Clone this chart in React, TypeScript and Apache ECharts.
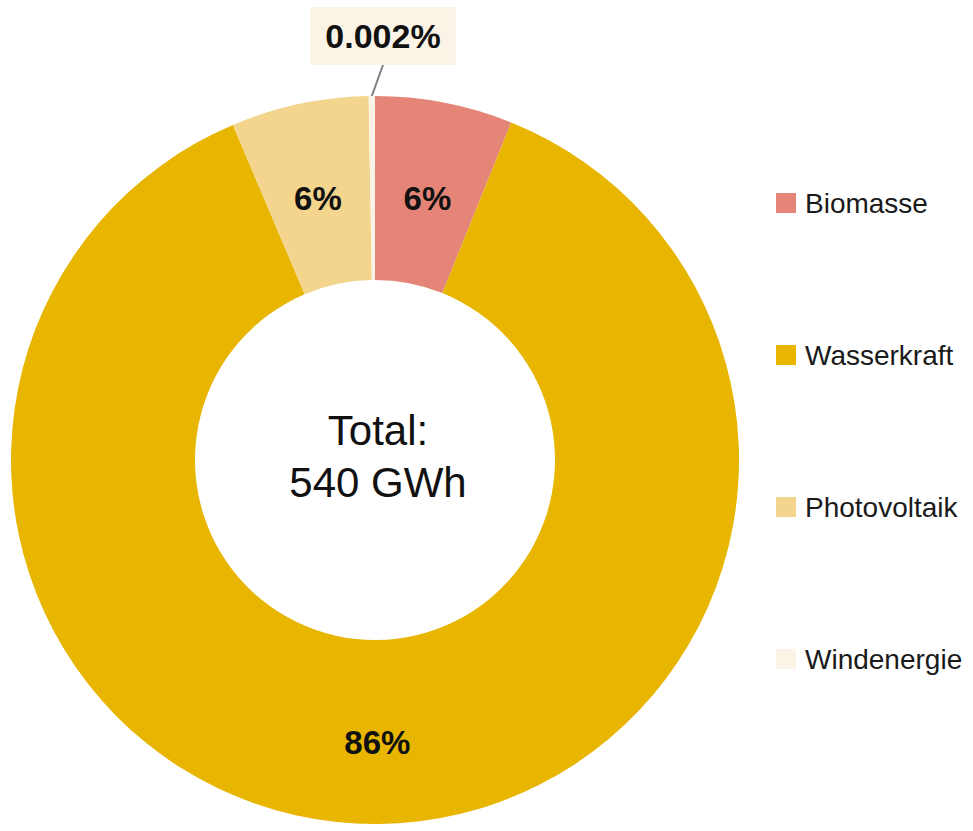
import React, { useEffect, useRef } from "react";
import * as echarts from "echarts";

const categories = ["Biomasse", "Wasserkraft", "Photovoltaik", "Windenergie"];
const shares = [6, 86, 6, 0.002];
const colors = ["#E48578", "#E8B500", "#F3D58E", "#FBF4E6"];
const totalText = "Total:\n540 GWh";

export default function App() {
  const ref = useRef<HTMLDivElement>(null);
  useEffect(() => {
    document.body.style.margin = "0";
    const chart = echarts.init(ref.current!, null, { renderer: "svg" });
    const font = "'Liberation Sans', Arial, sans-serif";
    chart.setOption({
      animation: false,
      backgroundColor: "#ffffff",
      legend: {
        orient: "vertical",
        left: 776,
        top: 188,
        padding: 0,
        itemWidth: 20,
        itemHeight: 20,
        itemGap: 122,
        icon: "rect",
        data: categories,
        textStyle: {
          fontFamily: font,
          fontSize: 28,
          lineHeight: 30,
          color: "#1a1a1a",
          padding: [0, 0, 0, 4],
        },
      },
      graphic: [
        {
          type: "text",
          x: 378,
          y: 456,
          style: {
            text: totalText,
            align: "center",
            verticalAlign: "middle",
            fontFamily: font,
            fontSize: 42,
            lineHeight: 52,
            fill: "#111",
          },
        },
      ],
      series: [
        {
          type: "pie",
          center: [375, 460],
          radius: [180, 364],
          startAngle: 90,
          clockwise: true,
          minAngle: 1,
          avoidLabelOverlap: false,
          itemStyle: { borderWidth: 0 },
          label: {
            show: true,
            position: "inside",
            formatter: (p: any) => p.value + "%",
            fontFamily: font,
            fontSize: 33,
            fontWeight: "bold",
            color: "#111",
          },
          labelLine: { show: false },
          emphasis: { disabled: true },
          labelLayout: (p: any) => {
            if (p.dataIndex === 3) {
              return { x: 383, y: 36, align: "center", verticalAlign: "middle" };
            }
            return { dy: 8 };
          },
          data: categories.map((name, i) => {
            const item: any = {
              name,
              value: shares[i],
              itemStyle: { color: colors[i] },
            };
            if (i === 3) {
              item.label = {
                position: "outside",
                backgroundColor: colors[3],
                padding: [12, 15],
                fontSize: 34,
              };
              item.labelLine = {
                show: true,
                length: 20,
                length2: 0,
                lineStyle: { color: "#7f7f7f", width: 2 },
              };
            }
            return item;
          }),
        },
      ],
    });
    return () => chart.dispose();
  }, []);
  return <div ref={ref} style={{ width: 973, height: 831 }} />;
}
